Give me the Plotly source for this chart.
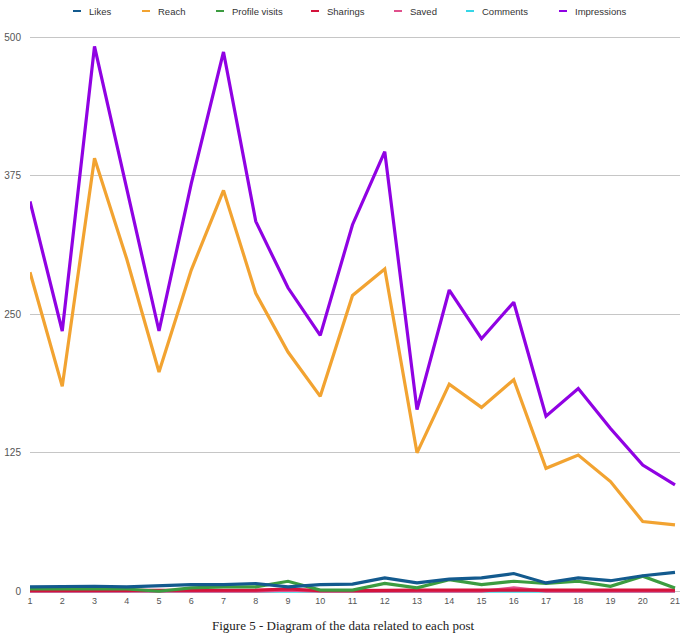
import plotly.graph_objects as go

posts = list(range(1, 22))
tick_labels = [str(i) for i in posts]

likes = [4, 4.5, 4.5, 4, 5, 6, 6, 7, 4, 6, 6.5, 12, 7.5, 11, 12, 16, 7.5, 12, 9.5, 14, 17]
reach = [288, 185, 391, 300, 198, 290, 362, 269, 216, 176, 267, 291, 125, 187, 166, 191, 111, 123, 99, 63, 60]
profile_visits = [2, 2, 2, 2, 0, 3, 4, 4, 9, 1, 1, 7, 3, 10.5, 6, 9, 7, 9, 4.5, 13.5, 3]
sharings = [0.5, 0.5, 0.5, 0.5, 0.5, 1, 1, 1, 2, 0.5, 0.5, 1, 1, 1, 1, 1.5, 1, 1, 1, 1, 1]
saved = [0, 0, 0, 0, 0, 0, 0, 0, 1, 0, 0, 0, 0, 0, 0, 3, 0, 0, 0, 0, 0]
comments = [0] * 21
impressions = [352, 235, 492, 363, 235, 368, 487, 334, 274, 231, 331, 397, 164, 272, 228, 261, 158, 183, 147, 114, 96]

series_names = ["Likes", "Reach", "Profile visits", "Sharings", "Saved", "Comments", "Impressions"]
series_values = [likes, reach, profile_visits, sharings, saved, comments, impressions]
colors = ["#135a8e", "#f2a331", "#3c9c40", "#d4133c", "#e0508c", "#36d6e7", "#9002e3"]

y_ticks = [0, 125, 250, 375, 500]

draw_order = [5, 4, 3, 2, 0, 1, 6]

fig = go.Figure()
for i in draw_order:
    fig.add_trace(go.Scatter(
        x=posts, y=series_values[i], mode="lines", name=series_names[i],
        line=dict(color=colors[i], width=3.2), showlegend=False,
    ))

# custom legend (short dashes + labels) at top
legend_x = [73, 142, 216, 311, 394, 466, 559]
W, H = 680, 637
ML, MT, MB, PW, PH = 30, 32, 43, 650, 562


def px_x(px):
    return (px - ML) / PW


def px_y(py):
    return (H - py - MB) / PH


for name, col, lx in zip(series_names, colors, legend_x):
    fig.add_shape(type="line", xref="paper", yref="paper",
                  x0=px_x(lx), x1=px_x(lx + 8), y0=px_y(11), y1=px_y(11),
                  line=dict(color=col, width=2))
    fig.add_annotation(text=name, xref="paper", yref="paper",
                       x=px_x(lx + 14), y=px_y(11),
                       xanchor="left", yanchor="middle", showarrow=False,
                       font=dict(family="Liberation Sans, Arial", size=9.5, color="#333333"))

fig.add_annotation(text="Figure 5 - Diagram of the data related to each post",
                   xref="paper", yref="paper", x=px_x(343), y=px_y(625),
                   xanchor="center", yanchor="middle", showarrow=False,
                   font=dict(family="Liberation Serif, Times New Roman, serif", size=13, color="#222222"))

fig.update_layout(
    width=W, height=H,
    margin=dict(l=ML, r=0, t=MT, b=MB),
    paper_bgcolor="white", plot_bgcolor="white",
    font=dict(family="Liberation Sans, Arial", size=9, color="#555555"),
    showlegend=False,
)
fig.update_xaxes(range=[1, 21.155], tickvals=posts, ticktext=tick_labels,
                 showgrid=False, zeroline=False, showline=False, ticks="",
                 ticklabeloverflow="allow",
                 tickfont=dict(size=9, color="#555555"))
fig.update_yaxes(range=[-2.5, 505], tickvals=y_ticks, showgrid=True, gridcolor="#c6c6c6",
                 gridwidth=1, zeroline=False, showline=False, ticks="",
                 ticklabelstandoff=8, tickfont=dict(size=10, color="#555555"))

fig.write_html("out.html", config={"displayModeBar": False},
               post_script="document.body.style.margin='0';document.body.style.padding='0';")
